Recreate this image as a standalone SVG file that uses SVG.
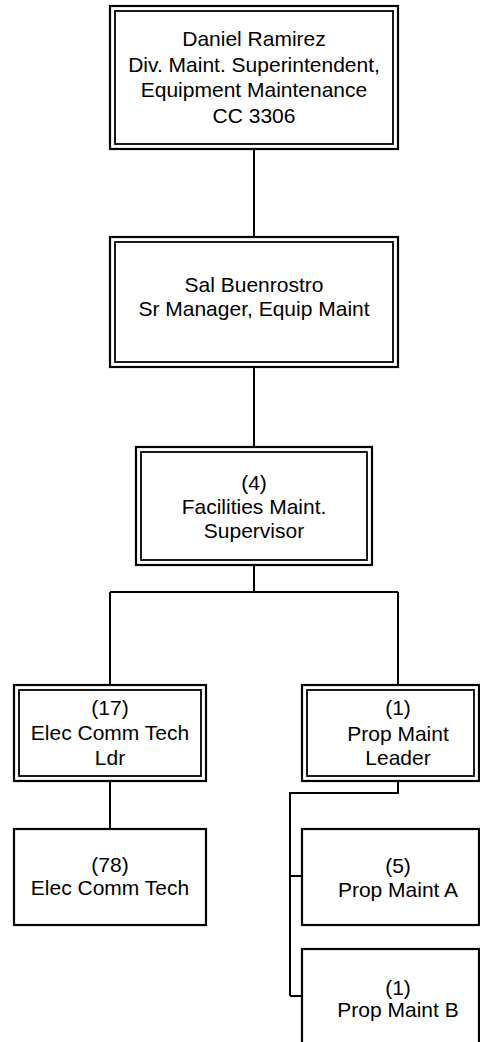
<svg xmlns="http://www.w3.org/2000/svg" width="480" height="1042" viewBox="0 0 480 1042">
<style>
.o{fill:#fff;stroke:#000;stroke-width:2.2}
.i{fill:none;stroke:#000;stroke-width:1.8}
.s{fill:#fff;stroke:#000;stroke-width:2.2}
.c{fill:none;stroke:#000;stroke-width:2}
text{font-family:"Liberation Sans",Arial,sans-serif;font-size:21px;fill:#000;text-anchor:middle}
</style>
<rect width="480" height="1042" fill="#fff"/>
<g id="connectors">
<path class="c" d="M254 149V237"/>
<path class="c" d="M254 367V447"/>
<path class="c" d="M254 565V592M110 592H398M110 592V685M398 592V685"/>
<path class="c" d="M110 781V829"/>
<path class="c" d="M398 781V793H290V996M290 876H302M290 996H302"/>
</g>
<g id="n1">
<rect class="o" x="110" y="6" width="288" height="143"/>
<rect class="i" x="115" y="11" width="278" height="133"/>
<text x="254" y="46">Daniel Ramirez</text>
<text x="254" y="71.5">Div. Maint. Superintendent,</text>
<text x="254" y="97">Equipment Maintenance</text>
<text x="254" y="122.5">CC 3306</text>
</g>
<g id="n2">
<rect class="o" x="110" y="237" width="288" height="130"/>
<rect class="i" x="115" y="242" width="278" height="120"/>
<text x="254" y="292">Sal Buenrostro</text>
<text x="254" y="316">Sr Manager, Equip Maint</text>
</g>
<g id="n3">
<rect class="o" x="136" y="447" width="236" height="118"/>
<rect class="i" x="141" y="452" width="226" height="108"/>
<text x="254" y="490">(4)</text>
<text x="254" y="513.5">Facilities Maint.</text>
<text x="254" y="538">Supervisor</text>
</g>
<g id="n4">
<rect class="o" x="14" y="685" width="192" height="96"/>
<rect class="i" x="19" y="690" width="182" height="86"/>
<text x="110" y="715">(17)</text>
<text x="110" y="740">Elec Comm Tech</text>
<text x="110" y="764.5">Ldr</text>
</g>
<g id="n5">
<rect class="o" x="302" y="685" width="177" height="96"/>
<rect class="i" x="307" y="690" width="167" height="86"/>
<text x="398" y="715">(1)</text>
<text x="398" y="740.5">Prop Maint</text>
<text x="398" y="765">Leader</text>
</g>
<g id="n6">
<rect class="s" x="14" y="829" width="192" height="96"/>
<text x="110" y="872">(78)</text>
<text x="110" y="895">Elec Comm Tech</text>
</g>
<g id="n7">
<rect class="s" x="302" y="829" width="177" height="96"/>
<text x="398" y="873">(5)</text>
<text x="398" y="896.5">Prop Maint A</text>
</g>
<g id="n8">
<rect class="s" x="302" y="949" width="177" height="96"/>
<text x="398" y="995">(1)</text>
<text x="398" y="1017">Prop Maint B</text>
</g>
</svg>
